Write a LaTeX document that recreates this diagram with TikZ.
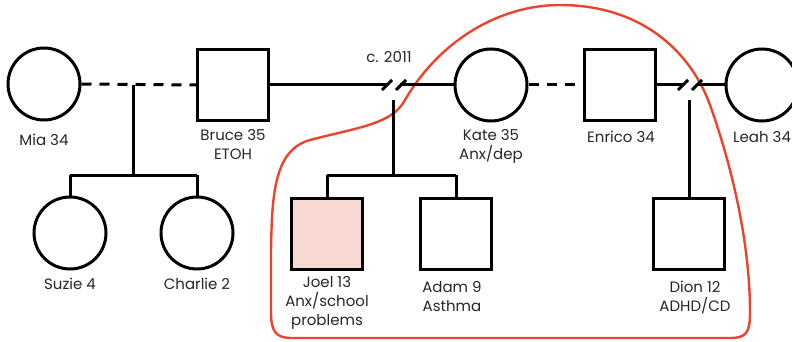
\documentclass[tikz,border=0pt]{standalone}
\usepackage{fontspec}
\setmainfont{Poppins}
\usetikzlibrary{calc}
\definecolor{redline}{HTML}{E8452C}
\definecolor{joelfill}{HTML}{F8D8D3}
\begin{document}
\begin{tikzpicture}[x=1pt,y=-1pt,
  female/.style={circle,draw,line width=3pt,minimum size=72pt,inner sep=0pt},
  male/.style={rectangle,draw,line width=3pt,minimum size=71pt,inner sep=0pt},
  lab/.style={align=center,font=\fontsize{15}{19}\selectfont,inner sep=0pt,text=black!85},
  rel/.style={line width=3pt},
  brk/.style={line width=3pt},
  dsh/.style={line width=3pt,dash pattern=on 10pt off 8pt}]
\useasboundingbox (0,0) rectangle (792,342);
% red boundary
\draw[redline,line width=2.4pt]
  (405,100) .. controls (440,40) and (500,5) .. (560,5)
  .. controls (640,5) and (690,50) .. (710,105)
  .. controls (735,175) and (750,250) .. (750,312)
  .. controls (750,332) and (747,338) .. (730,338) -- (292,338)
  .. controls (276,338) and (271,332) .. (271,312) -- (271,250)
  .. controls (272,195) and (274,150) .. (310,140)
  .. controls (360,127) and (392,124) .. (405,100);
% people
\node[female] (mia) at (44,84) {};
\node[male] (bruce) at (233,85) {};
\node[female] (kate) at (491,85) {};
\node[male] (enrico) at (620,85) {};
\node[female] (leah) at (762,85) {};
\node[female] (suzie) at (70,233) {};
\node[female] (charlie) at (197,233) {};
\node[male,fill=joelfill] (joel) at (327,234) {};
\node[male] (adam) at (456,234) {};
\node[male] (dion) at (689,234) {};
% labels
\node[lab] (lmia) at (44,140) {Mia 34};
\node[lab,anchor=north] (lbruce) at (233,129) {Bruce 35\\ETOH};
\node[lab,anchor=north] (lkate) at (491,129) {Kate 35\\Anx/dep};
\node[lab] (lenrico) at (621,137) {Enrico 34};
\node[lab,anchor=west] (lleah) at (733,137) {Leah 34};
\node[lab] (lsuzie) at (70,284) {Suzie 4};
\node[lab] (lcharlie) at (197,284) {Charlie 2};
\node[lab,anchor=north] (ljoel) at (327,276) {Joel 13\\Anx/school\\problems};
\node[lab,anchor=north] (ladam) at (452,281) {Adam 9\\Asthma};
\node[lab,anchor=north] (ldion) at (695,281) {Dion 12\\ADHD/CD};
\node[lab] (ldate) at (389,57) {c. 2011};
% Mia - Bruce
\draw[dsh] (mia.east) -- (bruce.west);
\coordinate (mb) at (133,85);
\coordinate (mbk) at (133,175);
\coordinate (sk) at (70,175);
\coordinate (ck) at (197,175);
\draw[rel] (mb) -- (mbk);
\draw[rel] (sk) -- (ck);
\draw[rel] (sk) -- (suzie.north);
\draw[rel] (ck) -- (charlie.north);
% Bruce - Kate (divorced)
\coordinate (bk1) at (387,85);
\coordinate (bk2) at (400,85);
\draw[rel] (bruce.east) -- (bk1);
\draw[rel] (bk2) -- (kate.west);
\draw[brk] ($(bk1)+(-5,5)$) -- ($(bk1)+(5,-5)$);
\draw[brk] ($(bk2)+(-4,5)$) -- ($(bk2)+(6,-5)$);
\coordinate (bkd) at (393,100);
\coordinate (bkk) at (393,175);
\coordinate (jk) at (327,175);
\coordinate (ak) at (456,175);
\draw[rel] (bkd) -- (bkk);
\draw[rel] (jk) -- (ak);
\draw[rel] (jk) -- (joel.north);
\draw[rel] (ak) -- (adam.north);
% Kate - Enrico
\draw[dsh] (kate.east) -- (enrico.west);
% Enrico - Leah (divorced)
\coordinate (el1) at (683,85);
\coordinate (el2) at (697,85);
\draw[rel] (enrico.east) -- (el1);
\draw[rel] (el2) -- (leah.west);
\draw[brk] ($(el1)+(-5,5)$) -- ($(el1)+(5,-5)$);
\draw[brk] ($(el2)+(-5,5)$) -- ($(el2)+(5,-5)$);
\coordinate (eld) at (689,100);
\draw[rel] (eld) -- (dion.north);
\end{tikzpicture}
\end{document}
